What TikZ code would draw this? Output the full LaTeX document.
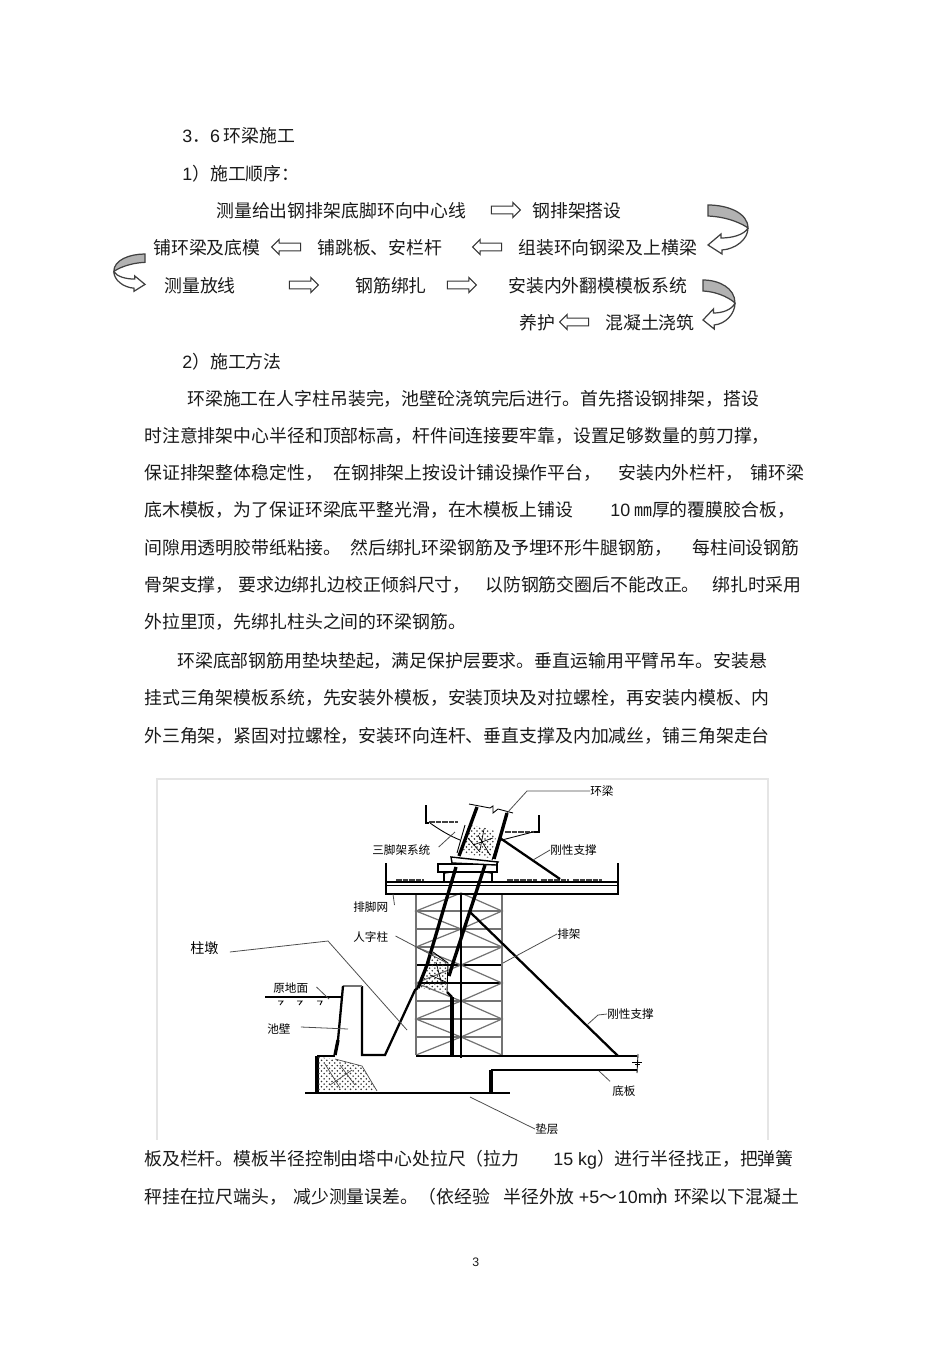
\documentclass[tikz,border=0pt]{standalone}
\usepackage{fontspec}
\setmainfont{Noto Sans CJK SC}
\newfontfamily\lat{Liberation Sans}
\usetikzlibrary{shapes,patterns}
\tikzstyle{txt} = [anchor=base west,inner sep=0pt,font=\fontsize{10.17}{12}\selectfont,text=black!90]
\tikzstyle{lab} = [inner sep=0pt,font=\fontsize{6.6}{8}\selectfont,text=black]
\tikzstyle{goright} = [single arrow,draw=black!80,fill=white,inner sep=0pt,minimum height=0.58cm,minimum width=0.3cm,single arrow head extend=0.07cm,single arrow head indent=0cm,line width=0.6pt]
\tikzstyle{goleft} = [goright,shape border rotate=180]
\tikzstyle{leader} = [line width=0.45pt,draw=black!70]
\tikzstyle{wall} = [line width=1.3pt]
\tikzstyle{fat} = [line width=1.9pt]
\tikzstyle{grayl} = [line width=0.7pt,draw=black!55]
\tikzstyle{plank} = [line width=1.4pt,dash pattern=on 3.2pt off 0.5pt,draw=black!75]
\tikzstyle{rubble} = [pattern=crosshatch dots,pattern color=black!80]
\tikzset{pics/bendarrow/.style={code={
  \draw[line width=0.7pt,draw=black!75,fill=black!30] (0,0) .. controls (20,0) and (40,8) .. (40,23) .. controls (36,20) and (22,12) .. (0,11) -- cycle;
  \draw[line width=0.7pt,draw=black!75,fill=white] (40,23) .. controls (40,34) and (28,44) .. (14,45) -- (14,49) -- (0,40) -- (13,29) -- (13,33) .. controls (24,33) and (36,30) .. (40,23);
}}}
\newcommand{\sz}{\rule{0pt}{3.6pt}}
% full-width punctuation
\newcommand{\cma}{\char"FF0C }
\newcommand{\lpr}{\char"FF08 }
\newcommand{\rpr}{\char"FF09 }
\newcommand{\cln}{\char"FF1A }
\newcommand{\dtt}{\char"FF0E }
\newcommand{\tld}{\char"FF5E }
\begin{document}
\begin{tikzpicture}[x=0.02cm,y=-0.02cm]
\useasboundingbox (0,0) rectangle (950,1345);

% heading and order of work
\node (sec) [txt] at (182,142) {{\lat 3}\dtt {\lat 6}\hspace{2pt}环梁施工};
\node (ordr) [txt] at (182,180) {{\lat 1}\rpr 施工顺序\cln};
\node (f1) [txt] at (216,217) {测量给出钢排架底脚环向中心线};
\node (a1) [goright] at (504,210) {\sz};
\node (f2) [txt] at (532,217) {钢排架搭设};
\node (f3) [txt] at (518,254) {组装环向钢梁及上横梁};
\node (a2) [goleft] at (489,247) {\sz};
\node (f4) [txt] at (317,254) {铺跳板、安栏杆};
\node (a3) [goleft] at (288,247) {\sz};
\node (f5) [txt] at (153,254) {铺环梁及底模};
\node (f6) [txt] at (164,292) {测量放线};
\node (a4) [goright] at (302,285) {\sz};
\node (f7) [txt] at (355,292) {钢筋绑扎};
\node (a5) [goright] at (460,285) {\sz};
\node (f8) [txt] at (508,292) {安装内外翻模模板系统};
\node (f9) [txt] at (605,329) {混凝土浇筑};
\node (a6) [goleft] at (576,322) {\sz};
\node (f10) [txt] at (519,329) {养护};
\pic at (708,205) {bendarrow};
\pic [xscale=-0.78,yscale=0.76] at (145,254) {bendarrow};
\pic [xscale=0.8] at (703,280) {bendarrow};
\node (meth) [txt] at (182,368) {{\lat 2}\rpr 施工方法};

% body text
\node (p1) [txt] at (187,405) {环梁施工在人字柱吊装完\cma 池壁砼浇筑完后进行。首先搭设钢排架\cma 搭设};
\node (p2) [txt] at (144,442) {时注意排架中心半径和顶部标高\cma 杆件间连接要牢靠\cma 设置足够数量的剪刀撑\cma};
\node (p3a) [txt] at (144,479) {保证排架整体稳定性\cma};
\node (p3b) [txt] at (333,479) {在钢排架上按设计铺设操作平台\cma};
\node (p3c) [txt] at (618,479) {安装内外栏杆\cma};
\node (p3d) [txt] at (750,479) {铺环梁};
\node (p4a) [txt] at (144,516) {底木模板\cma 为了保证环梁底平整光滑\cma 在木模板上铺设};
\node (p4b) [txt] at (610,516) {{\lat 10} ㎜厚的覆膜胶合板\cma};
\node (p5a) [txt] at (144,554) {间隙用透明胶带纸粘接。};
\node (p5b) [txt] at (350,554) {然后绑扎环梁钢筋及予埋环形牛腿钢筋\cma};
\node (p5c) [txt] at (692,554) {每柱间设钢筋};
\node (p6a) [txt] at (144,591) {骨架支撑\cma};
\node (p6b) [txt] at (238,591) {要求边绑扎边校正倾斜尺寸\cma};
\node (p6c) [txt] at (485,591) {以防钢筋交圈后不能改正。};
\node (p6d) [txt] at (712,591) {绑扎时采用};
\node (p7) [txt] at (144,628) {外拉里顶\cma 先绑扎柱头之间的环梁钢筋。};
\node (p8) [txt] at (177,667) {环梁底部钢筋用垫块垫起\cma 满足保护层要求。垂直运输用平臂吊车。安装悬};
\node (p9) [txt] at (144,704) {挂式三角架模板系统\cma 先安装外模板\cma 安装顶块及对拉螺栓\cma 再安装内模板、内};
\node (p10) [txt] at (144,742) {外三角架\cma 紧固对拉螺栓\cma 安装环向连杆、垂直支撑及内加减丝\cma 铺三角架走台};
\node (p11a) [txt] at (144,1165) {板及栏杆。模板半径控制由塔中心处拉尺\lpr 拉力};
\node (p11b) [txt] at (553,1165) {{\lat 15 kg}\rpr 进行半径找正\cma 把弹簧};
\node (p12a) [txt] at (144,1203) {秤挂在拉尺端头\cma};
\node (p12b) [txt] at (293,1203) {减少测量误差。\lpr 依经验};
\node (p12c) [txt] at (503,1203) {半径外放 {\lat +5}\tld\hspace{0.5pt}{\lat 10mm}\hspace{-6.5pt}\rpr 环梁以下混凝土};
\node (pg) [txt,font=\fontsize{7}{8}\selectfont] at (472,1266) {\lat 3};

% frame of the figure
\draw[black!10,line width=0.8pt] (157,1140) -- (157,779) -- (768,779) -- (768,1140);

% scaffold
\foreach \y in {911,929,947,1001,1019,1037}
  \draw[grayl] (416,\y) -- (502,\y);
\foreach \y in {965,983}
  \draw[line width=0.6pt] (416,\y) -- (502,\y);
\draw[grayl] (416,894) -- (416,1055);
\draw[grayl] (502,894) -- (502,1055);
\foreach \y in {893,929,965,1001}
  \draw[grayl] (461,\y) -- (416,\y+18) -- (461,\y+36) -- (502,\y+18) -- cycle;
\draw[grayl] (461,1037) -- (416,1055);
\draw[grayl] (461,1037) -- (502,1055);
\draw[line width=1pt] (461,894) -- (461,1058);

% deck
\draw[line width=0.9pt] (386,863) -- (386,894) -- (618,894) -- (618,863);
\draw[line width=0.9pt] (386,882) -- (618,882);
\draw[line width=0.5pt] (386,885) -- (618,885);
\draw[plank] (396,880) -- (424,880);
\draw[plank] (507,880) -- (537,880);
\draw[plank] (541,880) -- (569,880);
\draw[plank] (573,880) -- (602,880);

% support and plate under the beam
\draw[line width=0.9pt,fill=white] (438,864) rectangle (497,872);
\draw[line width=0.9pt] (450,872) -- (444,873) -- (444,882);
\draw[line width=0.9pt] (486,872) -- (492,873) -- (492,882);
\draw[line width=0.8pt,fill=white] (451,857) -- (498,862) -- (496,865) -- (452,863) -- cycle;

% ring beam
\fill[rubble] (472,825) -- (493,830) -- (496,837) -- (490,858) -- (462,853) -- cycle;
\draw[line width=0.4pt] (478,835) -- (490,855) (473,845) -- (493,838) (468,838) -- (480,852) (484,829) -- (480,850);
\draw[fat] (477,807) -- (459,856);
\draw[fat] (507,813) -- (494,859);
\draw[line width=0.5pt] (469,804) -- (490,808) -- (493,806) -- (493,813) -- (498,809) -- (513,813);
\draw[line width=0.5pt] (465,825) -- (457,853);
\draw[line width=0.5pt] (499,838) -- (492,860);

% triangular frames
\draw[line width=0.6pt] (426,805) -- (426,823) -- (429,823);
\draw[plank] (429,822) -- (458,822);
\draw[line width=0.5pt] (430,823) .. controls (440,830) and (450,836) .. (460,840);
\draw[line width=0.6pt] (539,815) -- (539,832) -- (534,832);
\draw[plank] (505,832) -- (534,832);
\draw[line width=0.5pt] (498,841) -- (533,832);
\draw[wall] (500,838) -- (560,879);

% herringbone column and braces
\fill[rubble] (433,952) -- (448,963) -- (447,992) -- (418,988) -- (427,965) -- cycle;
\draw[line width=0.5pt] (433,952) -- (448,963) -- (447,992);
\draw[line width=0.4pt] (430,975) -- (446,982) (436,962) -- (442,985);
\draw[fat] (456,867) -- (427,965) -- (418,988);
\draw[fat] (485,865) -- (453,963) -- (449,976);
\draw[wall] (470,912) -- (618,1056);

% pier, wall and slab
\draw[wall] (418,988) -- (415,990) -- (385,1055) -- (362,1055) -- (362,986);
\draw[grayl] (362,986) -- (343,986);
\draw[wall] (343,986) -- (338,1040);
\draw[fat] (338,1040) -- (335,1055);
\draw[wall] (335,1056) -- (317,1056);
\draw[line width=2.4pt] (317,1056) -- (317,1092);
\draw[wall] (305,1093) -- (510,1093);
\draw[line width=2pt] (491,1070) -- (491,1092);
\draw[wall] (491,1070) -- (637,1070);
\draw[wall] (416,1056) -- (637,1056);
\draw[line width=0.5pt] (638,1054) -- (637,1073);
\draw[line width=0.5pt] (632,1062) -- (642,1062) (635,1064) -- (640,1064);
\draw[wall] (447,992) -- (452,997);
\draw[line width=2pt] (452,997) -- (452,1055);
\fill[rubble] (318,1057) -- (335,1059) -- (362,1066) -- (377,1091) -- (318,1091) -- cycle;
\draw[line width=0.4pt,black!70] (335,1059) -- (362,1066) -- (377,1091) (325,1064) -- (340,1088) (340,1065) -- (355,1085) (352,1070) -- (330,1085);

% ground
\draw[line width=0.7pt] (265,997) -- (343,997);
\draw[line width=0.5pt] (278,1001) -- (283,1001) -- (280,1005);
\draw[line width=0.5pt] (297,1001) -- (302,1001) -- (299,1005);
\draw[line width=0.5pt] (317,1001) -- (322,1001) -- (320,1005);

% labels and leaders
\node (huanl) [lab,anchor=west] at (590,791) {环梁};
\node (sanj) [lab,anchor=west] at (372,850) {三脚架系统};
\node (gangn) [lab,anchor=west] at (550,850) {刚性支撑};
\node (paij) [lab,anchor=west] at (353,907) {排脚网};
\node (renz) [lab,anchor=west] at (353,937) {人字柱};
\node (pai) [lab,anchor=west] at (557,934) {排架};
\node (zhu) [lab,anchor=west,font=\fontsize{8}{10}\selectfont] at (190,948) {柱墩};
\node (yuan) [lab,anchor=west] at (273,988) {原地面};
\node (chi) [lab,anchor=west] at (267,1029) {池壁};
\node (gangx) [lab,anchor=west] at (607,1014) {刚性支撑};
\node (dib) [lab,anchor=west] at (612,1091) {底板};
\node (dian) [lab,anchor=west] at (535,1129) {垫层};
\coordinate (huanle) at (507,813);
\coordinate (sanje) at (455,832);
\coordinate (gangne) at (533,860);
\coordinate (paije) at (393,894);
\coordinate (renze) at (447,963);
\coordinate (paie) at (503,963);
\coordinate (zhue) at (407,1030);
\coordinate (yuane) at (329,999);
\coordinate (chie) at (348,1029);
\coordinate (gangxe) at (588,1024);
\coordinate (dibe) at (599,1071);
\coordinate (diane) at (470,1097);
\draw[leader] (huanl.west) -- (527,791) -- (huanle);
\draw[leader] (sanj.east) ++(8,-3) -- (sanje);
\draw[leader] (gangn.west) -- (gangne);
\draw[leader] (paij.east) ++(6,-2) -- (paije);
\draw[leader] (renz.east) ++(7,-1) -- (renze);
\draw[leader] (pai.west) -- (paie);
\draw[leader] (zhu.east) ++(11,4) -- (328,941) -- (zhue);
\draw[leader] (yuan.east) ++(8,-1) -- (yuane);
\draw[leader] (chi.east) ++(10,-2) -- (chie);
\draw[leader] (gangx.west) -- (598,1015) -- (gangxe);
\draw[leader] (dib.north west) ++(-2,-4) -- (dibe);
\draw[leader] (dian.west) -- (diane);
\end{tikzpicture}
\end{document}
